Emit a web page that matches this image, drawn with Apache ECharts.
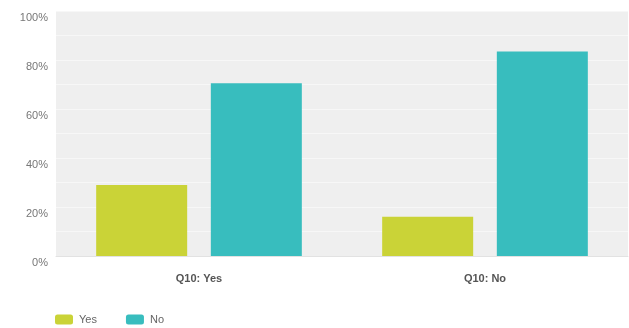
<!DOCTYPE html>
<html><head><meta charset="utf-8">
<script src="https://cdn.jsdelivr.net/npm/echarts@6/dist/echarts.min.js"></script>
<style>html,body{margin:0;padding:0;background:#fff}#c{width:629px;height:328px}</style>
</head><body><div id="c"></div>
<script>
const categories = ['Q10: Yes', 'Q10: No'];
const seriesNames = ['Yes', 'No'];
const yesValues = [29, 16];
const noValues = [70.5, 83.5];
const yTicks = [0, 20, 40, 60, 80, 100];

const chart = echarts.init(document.getElementById('c'), null, {renderer: 'canvas'});
chart.setOption({
  animation: false,
  backgroundColor: '#ffffff',
  grid: {left: 56, right: 1, top: 11, bottom: 72, show: true, backgroundColor: '#efefef', borderWidth: 0},
  legend: {
    left: 55, bottom: 3, padding: 0, itemWidth: 18, itemHeight: 10, itemGap: 29,
    icon: 'roundRect',
    textStyle: {color: '#666', fontSize: 11, fontFamily: 'Liberation Sans, Arial, sans-serif', padding: [0, 0, 0, 1]},
    data: seriesNames
  },
  xAxis: {
    type: 'category', data: categories,
    axisLine: {show: true, lineStyle: {color: '#e2e2e2', width: 1}},
    axisTick: {show: false},
    axisLabel: {margin: 17, color: '#555', fontSize: 11, fontWeight: 'bold', fontFamily: 'Liberation Sans, Arial, sans-serif'}
  },
  yAxis: {
    type: 'value', min: 0, max: 100, interval: 10,
    axisLine: {show: false}, axisTick: {show: false},
    splitLine: {show: true, lineStyle: {color: '#f7f7f7', width: 1}},
    axisLabel: {
      color: '#777', fontSize: 11, margin: 8, verticalAlign: 'top', lineHeight: 13,
      fontFamily: 'Liberation Sans, Arial, sans-serif',
      formatter: function (v) { return yTicks.indexOf(v) >= 0 ? v + '%' : ''; }
    }
  },
  series: [
    {name: seriesNames[0], type: 'bar', data: yesValues, barWidth: 91, barGap: '26%', itemStyle: {color: '#cad337'}},
    {name: seriesNames[1], type: 'bar', data: noValues, barWidth: 91, itemStyle: {color: '#38bdbe'}}
  ]
});
</script></body></html>
